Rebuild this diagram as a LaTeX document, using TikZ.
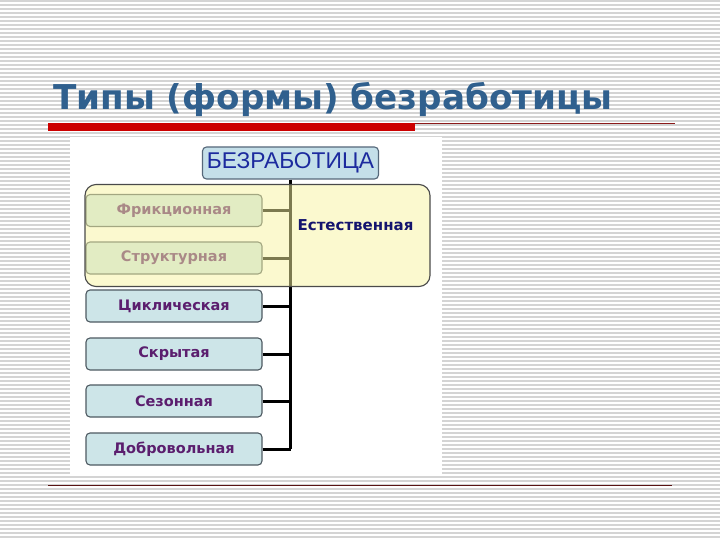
\documentclass[tikz,border=0pt]{standalone}
\usepackage{fontspec}
\setmainfont{Liberation Sans}
\newfontfamily\titlefont{DejaVu Sans}
\definecolor{stripe}{HTML}{D4D4D4}
\definecolor{titleblue}{HTML}{30608E}
\definecolor{barred}{HTML}{CC0000}
\definecolor{thinred}{HTML}{8B1A1A}
\definecolor{bottomline}{HTML}{5A1414}
\definecolor{boxfill}{HTML}{CDE5E8}
\definecolor{boxdraw}{HTML}{4E5A62}
\definecolor{topfill}{HTML}{C4DFE9}
\definecolor{topdraw}{HTML}{56687A}
\definecolor{toptext}{HTML}{1C2A9E}
\definecolor{purpletext}{HTML}{5B1E6E}
\definecolor{yellowfill}{HTML}{F8F4A0}
\definecolor{yellowdraw}{HTML}{4A4A4A}
\definecolor{navy}{HTML}{14146E}
\tikzset{
  typebox/.style={draw=boxdraw, line width=1.1pt, fill=boxfill, rounded corners=4pt,
    minimum width=176pt, minimum height=32pt, inner sep=0pt,
    font=\titlefont\fontsize{14.5}{17}\selectfont\bfseries, text=purpletext},
  topbox/.style={draw=topdraw, line width=1.1pt, fill=topfill, rounded corners=4pt,
    minimum width=176pt, minimum height=32pt, inner sep=0pt,
    font=\fontsize{22.8}{25}\selectfont, text=toptext},
  natbox/.style={draw=yellowdraw, line width=1.1pt, fill=yellowfill, fill opacity=0.5,
    draw opacity=1, rounded corners=11pt, minimum width=345pt, minimum height=102pt, inner sep=0pt},
  conn/.style={line width=3pt, black},
}
\begin{document}
\begin{tikzpicture}[x=1pt,y=-1pt]
\useasboundingbox (0,0) rectangle (720,540);
\fill[white] (0,0) rectangle (720,540);
\foreach \i in {0,...,134} \draw[stripe, line width=1.2pt] (0,{\i*4+1}) -- (720,{\i*4+1});
% white diagram canvas
\fill[white] (70,137) rectangle (442,475);
% title
\node[anchor=base west, inner sep=0pt, text=titleblue, font=\titlefont\bfseries\fontsize{34.2}{40}\selectfont] (title) at (53,110) {Типы (формы) безработицы};
\fill[barred] (48,123) rectangle (415,131);
\draw[thinred, line width=1pt] (415,123.5) -- (675,123.5);
\draw[bottomline, line width=1.5pt] (48,485.5) -- (672,485.5);
% diagram
\node[topbox] (bez) at (290.5,163) {БЕЗРАБОТИЦА};
\node[typebox] (fr) at (174,210.5) {Фрикционная};
\node[typebox] (st) at (174,258) {Структурная};
\node[typebox] (cy) at (174,306) {Циклическая};
\node[typebox] (hid) at (174,354) {Скрытая};
\node[typebox] (se) at (174,401) {Сезонная};
\node[typebox] (vol) at (174,449) {Добровольная};
\draw[conn] (bez.south) -- (bez.south |- vol.east);
\foreach \b in {fr,st,cy,hid,se,vol} \draw[conn] (\b.east) -- (\b.east -| bez.south);
\node[natbox] (nat) at (257.5,235.5) {};
\node[font=\titlefont\fontsize{15}{17}\selectfont\bfseries, text=navy, inner sep=0pt] (natlabel) at (355.5,225.5) {Естественная};
\end{tikzpicture}
\end{document}
